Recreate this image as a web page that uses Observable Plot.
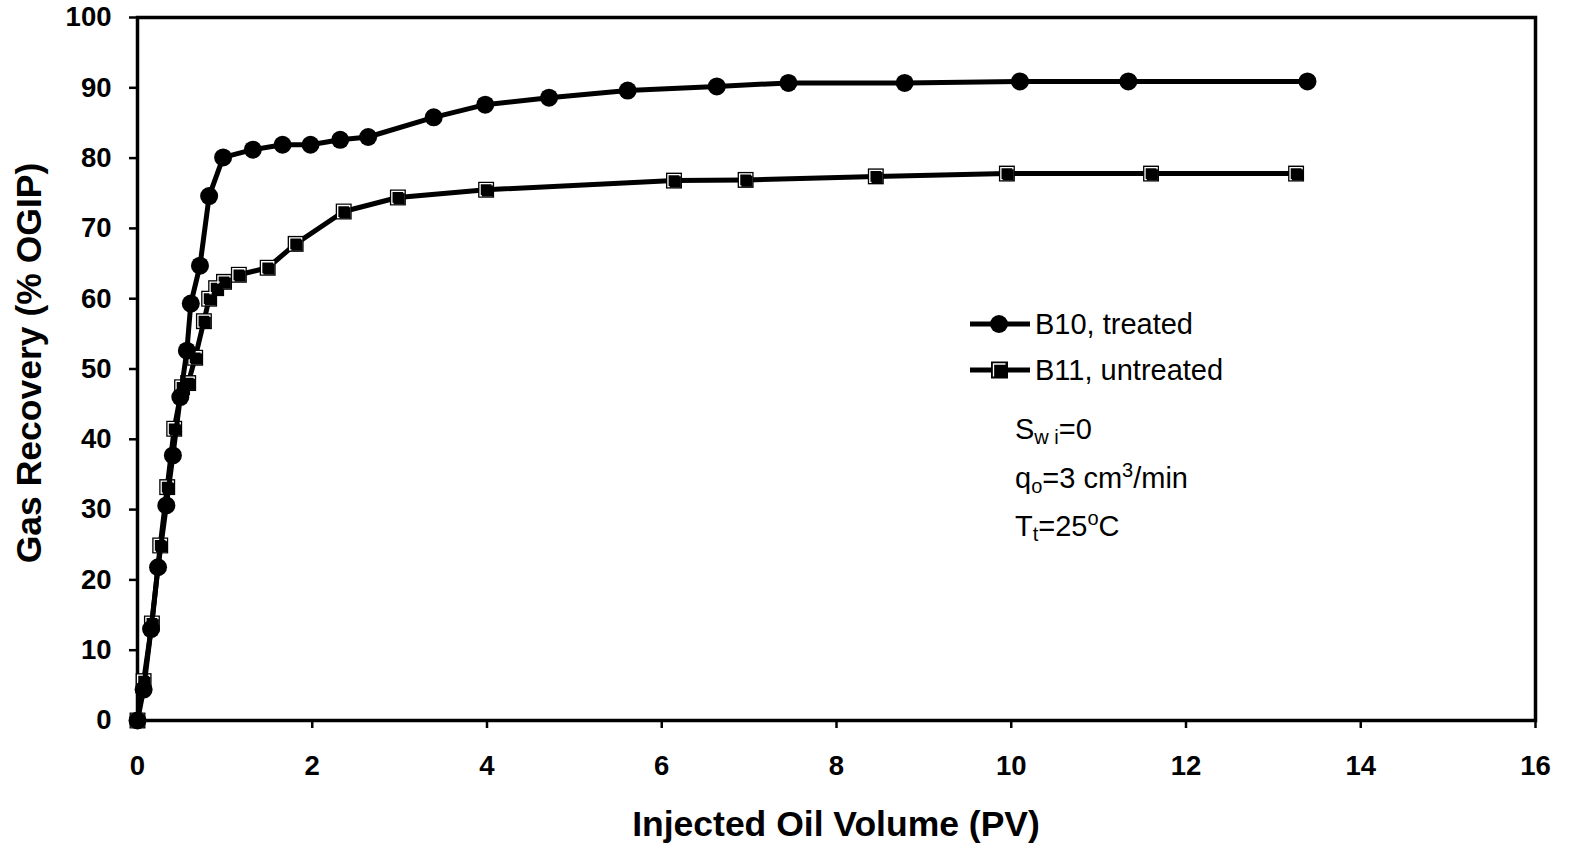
<!DOCTYPE html>
<html>
<head>
<meta charset="utf-8">
<script src="https://cdn.jsdelivr.net/npm/d3@7"></script>
<script src="https://cdn.jsdelivr.net/npm/@observablehq/plot@0.6"></script>
<style>
  html, body { margin: 0; padding: 0; background: #fff; }
  #chart svg { display: block; }
</style>
</head>
<body>
<div id="chart"></div>
<script>
const b10X = [0, 0.07, 0.155, 0.235, 0.33, 0.405, 0.49, 0.565, 0.61, 0.715, 0.82, 0.98, 1.32, 1.66, 1.98, 2.32, 2.64, 3.39, 3.98, 4.71, 5.61, 6.63, 7.45, 8.78, 10.1, 11.34, 13.39];
const b10Y = [0, 4.4, 13, 21.8, 30.6, 37.7, 46, 52.6, 59.3, 64.7, 74.6, 80.1, 81.2, 81.9, 81.9, 82.6, 83.0, 85.8, 87.6, 88.6, 89.6, 90.2, 90.7, 90.7, 90.9, 90.9, 90.9];
const b11X = [0, 0.07, 0.165, 0.26, 0.34, 0.42, 0.51, 0.58, 0.66, 0.76, 0.82, 0.9, 0.99, 1.16, 1.49, 1.81, 2.36, 2.98, 3.99, 6.14, 6.96, 8.45, 9.95, 11.6, 13.26];
const b11Y = [0, 5.6, 13.8, 24.9, 33.2, 41.5, 47.4, 48.0, 51.6, 56.8, 60.0, 61.5, 62.4, 63.4, 64.4, 67.8, 72.4, 74.4, 75.5, 76.8, 76.9, 77.4, 77.8, 77.8, 77.8];
const xTicks = [0, 2, 4, 6, 8, 10, 12, 14, 16];
const yTicks = [0, 10, 20, 30, 40, 50, 60, 70, 80, 90, 100];
const seriesNames = ["B10, treated", "B11, untreated"];

const b10 = b10X.map((x, i) => ({x, y: b10Y[i]}));
const b11 = b11X.map((x, i) => ({x, y: b11Y[i]}));

const W = 1570, H = 846;
const font = "'Liberation Sans', Arial, sans-serif";

const plot = Plot.plot({
  width: W,
  height: H,
  marginLeft: 137,
  marginTop: 17,
  marginRight: 35,
  marginBottom: 126,
  style: {fontFamily: font, background: "#fff", color: "#000", overflow: "visible"},
  x: {domain: [0, 16], ticks: xTicks, label: null},
  y: {domain: [0, 100], ticks: yTicks, label: null},
  marks: [
    Plot.axisX({ticks: xTicks, tickSize: 8, tickPadding: 27, fontSize: 27.5, fontWeight: "bold", strokeWidth: 2.5, label: null}),
    Plot.axisY({ticks: yTicks, tickSize: 8, tickPadding: 18, fontSize: 27.5, fontWeight: "bold", strokeWidth: 2.5, label: null}),
    Plot.frame({stroke: "#000", strokeWidth: 3.5}),
    Plot.line(b11, {x: "x", y: "y", stroke: "#000", strokeWidth: 5}),
    Plot.dot(b11, {x: "x", y: "y", symbol: "square", r: 9, fill: "#000", stroke: "none"}),
    Plot.dot(b11, {x: "x", y: "y", symbol: "square", r: 6.8, fill: "none", stroke: "#fff", strokeWidth: 1.3}),
    Plot.dot(b11, {x: "x", y: "y", symbol: "square", r: 6.3, fill: "#000", stroke: "none", dx: 1.3, dy: 1.3}),
    Plot.line(b10, {x: "x", y: "y", stroke: "#000", strokeWidth: 5}),
    Plot.dot(b10, {x: "x", y: "y", r: 9, fill: "#000", stroke: "none"})
  ]
});

const svg = d3.select(plot);
// Axis titles
svg.append("text")
  .attr("x", 836).attr("y", 836)
  .attr("text-anchor", "middle")
  .attr("font-family", font).attr("font-weight", "bold").attr("font-size", 35.5)
  .text("Injected Oil Volume (PV)");
svg.append("text")
  .attr("transform", "translate(41,363) rotate(-90)")
  .attr("text-anchor", "middle")
  .attr("font-family", font).attr("font-weight", "bold").attr("font-size", 35.5)
  .text("Gas Recovery (% OGIP)");

// Legend
const lg = svg.append("g").attr("font-family", font).attr("font-size", 29).attr("text-anchor", "start");
const rows = [{cy: 324, sym: "circle"}, {cy: 370, sym: "square"}];
rows.forEach((r, i) => {
  lg.append("line").attr("x1", 970).attr("x2", 1030).attr("y1", r.cy).attr("y2", r.cy)
    .attr("stroke", "#000").attr("stroke-width", 5);
  if (r.sym === "circle") {
    lg.append("circle").attr("cx", 999).attr("cy", r.cy).attr("r", 9).attr("fill", "#000");
  } else {
    lg.append("rect").attr("x", 991).attr("y", r.cy - 8.5).attr("width", 17).attr("height", 17).attr("fill", "#000");
    lg.append("path").attr("d", `M993.5,${r.cy + 6.5} V${r.cy - 6} H1005.5`).attr("fill", "none").attr("stroke", "#fff").attr("stroke-width", 1.3);
  }
  lg.append("text").attr("x", 1035).attr("y", r.cy + 10).text(seriesNames[i]);
});

// Annotations
const an = svg.append("g").attr("font-family", font).attr("font-size", 29).attr("text-anchor", "start");
const t1 = an.append("text").attr("x", 1015).attr("y", 439);
t1.append("tspan").text("S");
t1.append("tspan").attr("font-size", 20).attr("dy", 5).text("w i");
t1.append("tspan").attr("dy", -5).text("=0");
const t2 = an.append("text").attr("x", 1015).attr("y", 488);
t2.append("tspan").text("q");
t2.append("tspan").attr("font-size", 20).attr("dy", 5).text("o");
t2.append("tspan").attr("dy", -5).text("=3 cm");
t2.append("tspan").attr("font-size", 20).attr("dy", -11).text("3");
t2.append("tspan").attr("dy", 11).text("/min");
const t3 = an.append("text").attr("x", 1015).attr("y", 536);
t3.append("tspan").text("T");
t3.append("tspan").attr("font-size", 20).attr("dy", 5).text("t");
t3.append("tspan").attr("dy", -5).text("=25");
t3.append("tspan").attr("font-size", 20).attr("dy", -11).text("o");
t3.append("tspan").attr("dy", 11).text("C");

document.getElementById("chart").appendChild(plot);
</script>
</body>
</html>
